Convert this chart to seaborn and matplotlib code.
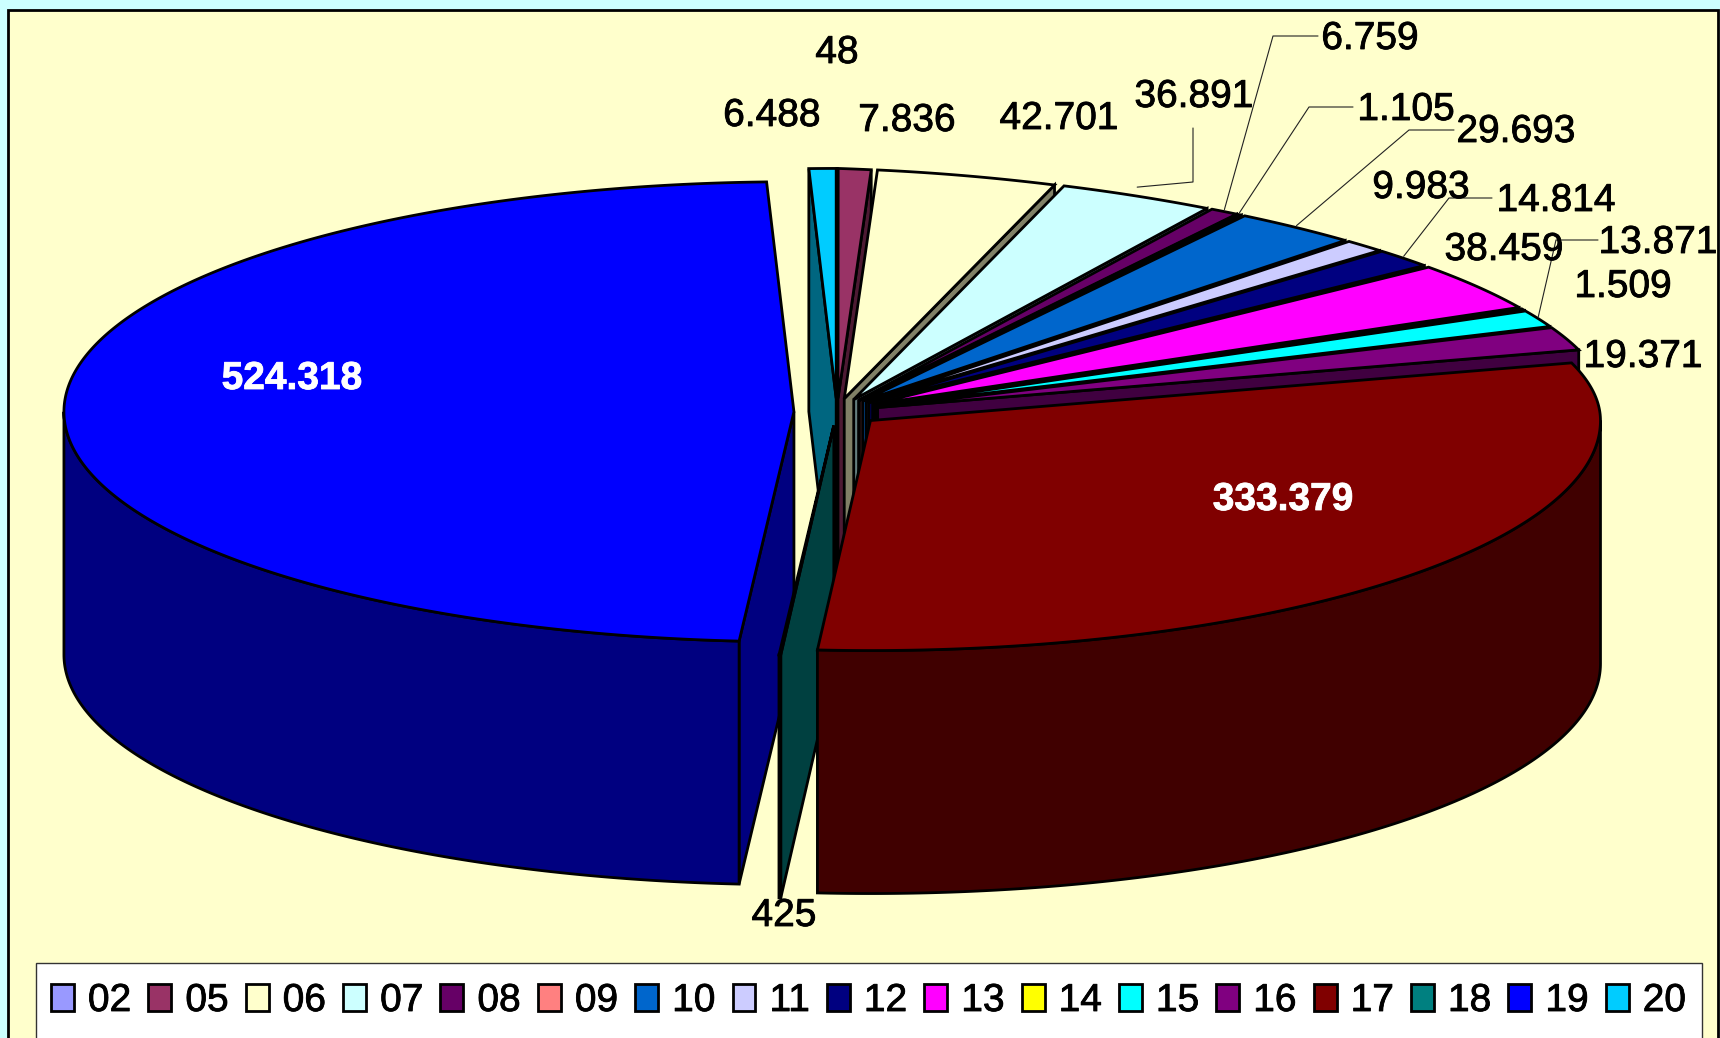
import numpy as np
import matplotlib.pyplot as plt
import matplotlib.patheffects as pe
from matplotlib.patches import Patch, Rectangle
import seaborn as sns

codes = ['02', '05', '06', '07', '08', '09', '10', '11', '12', '13', '14', '15', '16', '17', '18', '19', '20']
values = [48, 7836, 42701, 36891, 6759, 1105, 29693, 9983, 14814, 38459, 1509, 13871, 19371, 333379, 425, 524318, 6488]
top_colors = ['#9999FF', '#993366', '#FFFFCC', '#CCFFFF', '#660066', '#FF8080', '#0066CC', '#CCCCFF', '#000080',
              '#FF00FF', '#FFFF00', '#00FFFF', '#800080', '#800000', '#008080', '#0000FF', '#00CCFF']

sns.set_theme(style='white')
plt.rcParams['font.family'] = ['Liberation Sans']
palette = sns.color_palette(top_colors)
wall_colors = [tuple(np.array(c) / 2) for c in palette]

# pie geometry, pixels of the 1720x1038 picture
cx, cy = 837, 412
rx, ry = 730, 230
explode = 0.059
depth = 243
sag = 12
lw = 2
font_size = 28

fig = plt.figure(figsize=(17.2, 10.38), dpi=100, facecolor='#CCFFFF')
ax = fig.add_axes([0, 0, 1, 1])
ax.set_xlim(0, 1720)
ax.set_ylim(1038, 0)
ax.axis('off')

ax.add_patch(Rectangle((8, 10), 1710, 1100, fc='#FFFFCC', ec='black', lw=lw))

angles = np.cumsum([0] + values) / sum(values) * 360


def tip_of(i):
    mid = np.radians((angles[i] + angles[i + 1]) / 2)
    return cx + explode * rx * np.sin(mid), cy - explode * ry * np.cos(mid)


def rim(i, a):
    # point on the top edge of slice i, the back right of the pie sits a bit lower
    tx, ty = tip_of(i)
    t = np.radians(a)
    y = ty - ry * np.cos(t) + np.where((a > 0) & (a < 90), sag * np.sin(2 * t), 0)
    return tx + rx * np.sin(t), y


def arc(i, a, b):
    return rim(i, np.linspace(a, b, max(int(abs(b - a) * 2), 2)))


def flat_wall(i, a):
    tx, ty = tip_of(i)
    x, y = rim(i, np.array([a]))
    ax.fill([tx, x[0], x[0], tx], [ty, y[0], y[0] + depth, ty + depth],
            fc=wall_colors[i], ec='black', lw=lw, joinstyle='miter')


def draw_slice(i):
    a, b = angles[i], angles[i + 1]
    if np.sin(np.radians(a)) < 0:
        flat_wall(i, a)
    if np.sin(np.radians(b)) > 0:
        flat_wall(i, b)
    lo, hi = max(a, 90), min(b, 270)
    if lo < hi:
        x, y = arc(i, lo, hi)
        ax.fill(np.r_[x, x[::-1]], np.r_[y, y[::-1] + depth],
                fc=wall_colors[i], ec='black', lw=lw, joinstyle='miter')
    tx, ty = tip_of(i)
    x, y = arc(i, a, b)
    ax.fill(np.r_[tx, x], np.r_[ty, y], fc=palette[i], ec='black', lw=lw, joinstyle='miter')


# back to front: right side going down, then the left side, slice 17 last
for i in list(range(13)) + [16, 15, 14, 13]:
    draw_slice(i)

label_pos = {'02': (837, 53), '05': (907, 121), '06': (1059, 119), '07': (1194, 97), '08': (1370, 39),
             '09': (1406, 110), '10': (1516, 132), '11': (1421, 188), '12': (1556, 201), '13': (1504, 250),
             '14': (1623, 287), '15': (1658, 243), '16': (1643, 357), '17': (1283, 500), '18': (784, 916),
             '19': (292, 379), '20': (772, 116)}
for code, v in zip(codes, values):
    white = code in ('17', '19')
    color = 'white' if white else 'black'
    ax.text(*label_pos[code], f'{v:,}'.replace(',', '.'), ha='center', va='center', fontsize=font_size,
            color=color, fontweight='bold' if white else 'normal',
            path_effects=[pe.withStroke(linewidth=0.6, foreground=color)])

# leader lines: text end, elbow, then down to the middle of the slice edge
leaders = {'07': [(1193, 128), (1193, 182)], '08': [(1318, 36), (1273, 36)], '09': [(1353, 107), (1309, 107)],
           '10': [(1454, 130), (1409, 130)], '12': [(1492, 198), (1449, 198)], '15': [(1598, 240), (1556, 240)]}
leader_gap = {'07': 9}
for code, pts in leaders.items():
    i = codes.index(code)
    ex, ey = rim(i, np.array([(angles[i] + angles[i + 1]) / 2]))
    ax.plot([p[0] for p in pts] + [ex[0]], [p[1] for p in pts] + [ey[0] - leader_gap.get(code, 2)],
            color='#222222', lw=0.8)

ax.add_patch(Rectangle((36, 963), 1666, 120, fc='white', ec='#333333', lw=1))
handles = [Patch(fc=c, ec='black', lw=lw, label=code) for c, code in zip(palette, codes)]
leg = ax.legend(handles=handles, ncols=17, loc='upper left', bbox_to_anchor=(51, 983), bbox_transform=ax.transData,
                frameon=False, fontsize=font_size, handlelength=0.59, handleheight=0.72, handletextpad=0.36,
                columnspacing=0.44, borderpad=0, borderaxespad=0, labelcolor='black')
for t in leg.get_texts():
    t.set_path_effects([pe.withStroke(linewidth=0.6, foreground='black')])

fig.savefig('out.png', dpi=100, facecolor=fig.get_facecolor())
